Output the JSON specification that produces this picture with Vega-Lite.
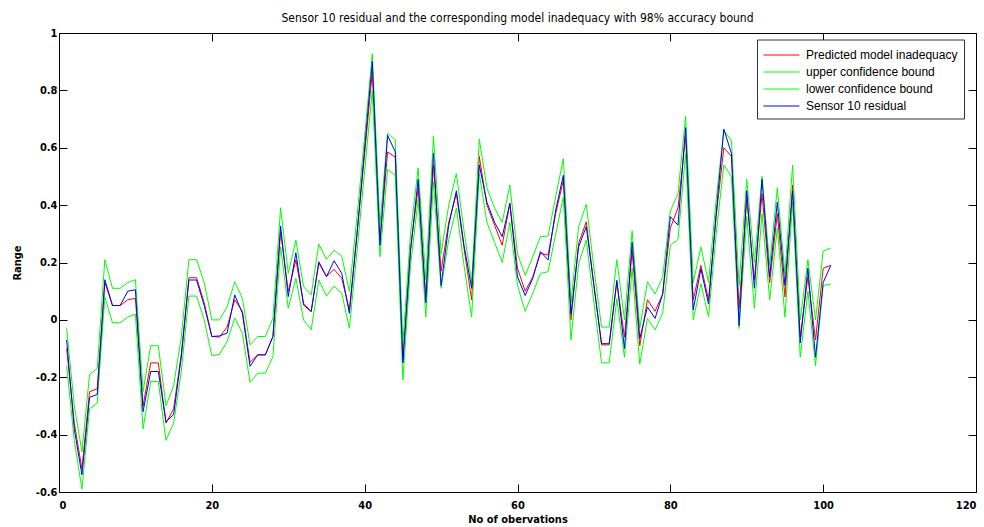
{
  "$schema": "https://vega.github.io/schema/vega-lite/v6.json",
  "width": 917,
  "height": 459,
  "autosize": "none",
  "padding": {"left": 59, "top": 33, "right": 8, "bottom": 35},
  "background": "white",
  "title": {
    "text": "Sensor 10 residual and the corresponding model inadequacy with 98% accuracy bound",
    "font": "'DejaVu Sans Condensed', 'Liberation Sans', sans-serif",
    "fontSize": 12,
    "fontWeight": "normal",
    "color": "black",
    "anchor": "middle",
    "offset": 2
  },
  "config": {
    "view": {"stroke": "black", "strokeWidth": 1},
    "axis": {
      "grid": false,
      "domain": false,
      "tickColor": "black",
      "tickSize": -8,
      "labelFont": "'DejaVu Sans Condensed', 'Liberation Sans', sans-serif",
      "labelFontSize": 11,
      "labelFontWeight": "bold",
      "labelColor": "black",
      "titleFont": "'DejaVu Sans Condensed', 'Liberation Sans', sans-serif",
      "titleFontSize": 11,
      "titleFontWeight": "bold",
      "titleColor": "black"
    }
  },
  "data": {
    "values": [
      {"x": 1, "pred": -0.10, "upper": -0.03, "lower": -0.16, "resid": -0.07},
      {"x": 2, "pred": -0.36, "upper": -0.30, "lower": -0.42, "resid": -0.38},
      {"x": 3, "pred": -0.52, "upper": -0.46, "lower": -0.59, "resid": -0.54},
      {"x": 4, "pred": -0.25, "upper": -0.19, "lower": -0.31, "resid": -0.27},
      {"x": 5, "pred": -0.24, "upper": -0.17, "lower": -0.29, "resid": -0.26},
      {"x": 6, "pred": 0.13, "upper": 0.21, "lower": 0.08, "resid": 0.14},
      {"x": 7, "pred": 0.05, "upper": 0.11, "lower": -0.01, "resid": 0.05},
      {"x": 8, "pred": 0.05, "upper": 0.11, "lower": -0.01, "resid": 0.05},
      {"x": 9, "pred": 0.07, "upper": 0.13, "lower": 0.01, "resid": 0.10},
      {"x": 10, "pred": 0.075, "upper": 0.14, "lower": 0.02, "resid": 0.105},
      {"x": 11, "pred": -0.30, "upper": -0.25, "lower": -0.38, "resid": -0.32},
      {"x": 12, "pred": -0.15, "upper": -0.09, "lower": -0.215, "resid": -0.18},
      {"x": 13, "pred": -0.15, "upper": -0.09, "lower": -0.215, "resid": -0.18},
      {"x": 14, "pred": -0.36, "upper": -0.30, "lower": -0.42, "resid": -0.355},
      {"x": 15, "pred": -0.31, "upper": -0.23, "lower": -0.36, "resid": -0.33},
      {"x": 16, "pred": -0.12, "upper": -0.06, "lower": -0.18, "resid": -0.13},
      {"x": 17, "pred": 0.147, "upper": 0.21, "lower": 0.083, "resid": 0.139},
      {"x": 18, "pred": 0.147, "upper": 0.21, "lower": 0.083, "resid": 0.139},
      {"x": 19, "pred": 0.06, "upper": 0.13, "lower": 0.0, "resid": 0.05},
      {"x": 20, "pred": -0.058, "upper": 0.0, "lower": -0.125, "resid": -0.058},
      {"x": 21, "pred": -0.06, "upper": 0.0, "lower": -0.12, "resid": -0.056},
      {"x": 22, "pred": -0.025, "upper": 0.046, "lower": -0.075, "resid": -0.046},
      {"x": 23, "pred": 0.07, "upper": 0.133, "lower": 0.006, "resid": 0.087},
      {"x": 24, "pred": 0.03, "upper": 0.075, "lower": -0.046, "resid": 0.023},
      {"x": 25, "pred": -0.148, "upper": -0.087, "lower": -0.218, "resid": -0.162},
      {"x": 26, "pred": -0.122, "upper": -0.058, "lower": -0.186, "resid": -0.122},
      {"x": 27, "pred": -0.122, "upper": -0.058, "lower": -0.186, "resid": -0.122},
      {"x": 28, "pred": -0.058, "upper": 0.006, "lower": -0.128, "resid": -0.058},
      {"x": 29, "pred": 0.307, "upper": 0.391, "lower": 0.255, "resid": 0.327},
      {"x": 30, "pred": 0.099, "upper": 0.162, "lower": 0.041, "resid": 0.081},
      {"x": 31, "pred": 0.209, "upper": 0.278, "lower": 0.145, "resid": 0.234},
      {"x": 32, "pred": 0.058, "upper": 0.116, "lower": 0.0, "resid": 0.052},
      {"x": 33, "pred": 0.029, "upper": 0.087, "lower": -0.035, "resid": 0.029},
      {"x": 34, "pred": 0.203, "upper": 0.264, "lower": 0.139, "resid": 0.199},
      {"x": 35, "pred": 0.151, "upper": 0.211, "lower": 0.083, "resid": 0.151},
      {"x": 36, "pred": 0.176, "upper": 0.243, "lower": 0.118, "resid": 0.206},
      {"x": 37, "pred": 0.145, "upper": 0.222, "lower": 0.093, "resid": 0.162},
      {"x": 38, "pred": 0.035, "upper": 0.099, "lower": -0.029, "resid": 0.023},
      {"x": 39, "pred": 0.30, "upper": 0.36, "lower": 0.24, "resid": 0.30},
      {"x": 40, "pred": 0.58, "upper": 0.64, "lower": 0.52, "resid": 0.60},
      {"x": 41, "pred": 0.865, "upper": 0.928, "lower": 0.80, "resid": 0.90},
      {"x": 42, "pred": 0.28, "upper": 0.33, "lower": 0.22, "resid": 0.26},
      {"x": 43, "pred": 0.585, "upper": 0.65, "lower": 0.525, "resid": 0.643},
      {"x": 44, "pred": 0.568, "upper": 0.628, "lower": 0.504, "resid": 0.586},
      {"x": 45, "pred": -0.14, "upper": -0.08, "lower": -0.21, "resid": -0.15},
      {"x": 46, "pred": 0.25, "upper": 0.30, "lower": 0.19, "resid": 0.24},
      {"x": 47, "pred": 0.46, "upper": 0.53, "lower": 0.42, "resid": 0.49},
      {"x": 48, "pred": 0.08, "upper": 0.14, "lower": 0.01, "resid": 0.06},
      {"x": 49, "pred": 0.54, "upper": 0.64, "lower": 0.48, "resid": 0.58},
      {"x": 50, "pred": 0.17, "upper": 0.23, "lower": 0.11, "resid": 0.12},
      {"x": 51, "pred": 0.34, "upper": 0.40, "lower": 0.28, "resid": 0.33},
      {"x": 52, "pred": 0.44, "upper": 0.51, "lower": 0.39, "resid": 0.45},
      {"x": 53, "pred": 0.25, "upper": 0.31, "lower": 0.19, "resid": 0.26},
      {"x": 54, "pred": 0.07, "upper": 0.13, "lower": 0.01, "resid": 0.11},
      {"x": 55, "pred": 0.57, "upper": 0.63, "lower": 0.51, "resid": 0.54},
      {"x": 56, "pred": 0.40, "upper": 0.46, "lower": 0.34, "resid": 0.41},
      {"x": 57, "pred": 0.33, "upper": 0.39, "lower": 0.27, "resid": 0.34},
      {"x": 58, "pred": 0.26, "upper": 0.34, "lower": 0.20, "resid": 0.29},
      {"x": 59, "pred": 0.406, "upper": 0.47, "lower": 0.34, "resid": 0.406},
      {"x": 60, "pred": 0.18, "upper": 0.23, "lower": 0.12, "resid": 0.15},
      {"x": 61, "pred": 0.10, "upper": 0.155, "lower": 0.03, "resid": 0.085},
      {"x": 62, "pred": 0.15, "upper": 0.22, "lower": 0.093, "resid": 0.145},
      {"x": 63, "pred": 0.232, "upper": 0.29, "lower": 0.162, "resid": 0.238},
      {"x": 64, "pred": 0.226, "upper": 0.292, "lower": 0.168, "resid": 0.209},
      {"x": 65, "pred": 0.371, "upper": 0.43, "lower": 0.30, "resid": 0.383},
      {"x": 66, "pred": 0.487, "upper": 0.562, "lower": 0.429, "resid": 0.504},
      {"x": 67, "pred": 0.0, "upper": 0.06, "lower": -0.07, "resid": 0.02},
      {"x": 68, "pred": 0.267, "upper": 0.325, "lower": 0.197, "resid": 0.255},
      {"x": 69, "pred": 0.342, "upper": 0.403, "lower": 0.278, "resid": 0.325},
      {"x": 70, "pred": 0.12, "upper": 0.18, "lower": 0.06, "resid": 0.12},
      {"x": 71, "pred": -0.087, "upper": -0.025, "lower": -0.15, "resid": -0.083},
      {"x": 72, "pred": -0.087, "upper": -0.025, "lower": -0.15, "resid": -0.083},
      {"x": 73, "pred": 0.132, "upper": 0.21, "lower": 0.074, "resid": 0.138},
      {"x": 74, "pred": -0.06, "upper": 0.0, "lower": -0.13, "resid": -0.10},
      {"x": 75, "pred": 0.24, "upper": 0.31, "lower": 0.18, "resid": 0.27},
      {"x": 76, "pred": -0.09, "upper": -0.03, "lower": -0.155, "resid": -0.065},
      {"x": 77, "pred": 0.07, "upper": 0.133, "lower": 0.005, "resid": 0.045},
      {"x": 78, "pred": 0.03, "upper": 0.09, "lower": -0.035, "resid": 0.005},
      {"x": 79, "pred": 0.09, "upper": 0.15, "lower": 0.023, "resid": 0.09},
      {"x": 80, "pred": 0.32, "upper": 0.38, "lower": 0.26, "resid": 0.36},
      {"x": 81, "pred": 0.39, "upper": 0.44, "lower": 0.28, "resid": 0.33},
      {"x": 82, "pred": 0.64, "upper": 0.71, "lower": 0.58, "resid": 0.67},
      {"x": 83, "pred": 0.07, "upper": 0.13, "lower": 0.0, "resid": 0.035},
      {"x": 84, "pred": 0.19, "upper": 0.254, "lower": 0.126, "resid": 0.178},
      {"x": 85, "pred": 0.07, "upper": 0.13, "lower": 0.01, "resid": 0.055},
      {"x": 86, "pred": 0.36, "upper": 0.42, "lower": 0.30, "resid": 0.37},
      {"x": 87, "pred": 0.60, "upper": 0.66, "lower": 0.54, "resid": 0.665},
      {"x": 88, "pred": 0.57, "upper": 0.625, "lower": 0.50, "resid": 0.58},
      {"x": 89, "pred": 0.04, "upper": 0.12, "lower": -0.03, "resid": -0.02},
      {"x": 90, "pred": 0.42, "upper": 0.49, "lower": 0.36, "resid": 0.45},
      {"x": 91, "pred": 0.14, "upper": 0.20, "lower": 0.04, "resid": 0.11},
      {"x": 92, "pred": 0.44, "upper": 0.50, "lower": 0.37, "resid": 0.49},
      {"x": 93, "pred": 0.13, "upper": 0.19, "lower": 0.07, "resid": 0.15},
      {"x": 94, "pred": 0.37, "upper": 0.46, "lower": 0.32, "resid": 0.41},
      {"x": 95, "pred": 0.08, "upper": 0.16, "lower": 0.01, "resid": 0.12},
      {"x": 96, "pred": 0.47, "upper": 0.54, "lower": 0.41, "resid": 0.45},
      {"x": 97, "pred": -0.06, "upper": 0.0, "lower": -0.13, "resid": -0.08},
      {"x": 98, "pred": 0.15, "upper": 0.21, "lower": 0.10, "resid": 0.18},
      {"x": 99, "pred": -0.07, "upper": 0.0, "lower": -0.16, "resid": -0.13},
      {"x": 100, "pred": 0.18, "upper": 0.24, "lower": 0.12, "resid": 0.13},
      {"x": 101, "pred": 0.19, "upper": 0.25, "lower": 0.125, "resid": 0.19}
    ]
  },
  "transform": [{"fold": ["pred", "upper", "lower", "resid"], "as": ["series", "value"]}],
  "layer": [
    {
      "mark": {"type": "line", "strokeWidth": 1, "interpolate": "linear"},
      "encoding": {
        "x": {
          "field": "x", "type": "quantitative",
          "scale": {"domain": [0, 120], "nice": false, "zero": false},
          "axis": {"orient": "bottom", "values": [0, 20, 40, 60, 80, 100, 120], "title": "No of obervations", "labelPadding": 15, "titlePadding": 3}
        },
        "y": {
          "field": "value", "type": "quantitative",
          "scale": {"domain": [-0.6, 1], "nice": false, "zero": false},
          "axis": {"orient": "left", "values": [-0.6, -0.4, -0.2, 0, 0.2, 0.4, 0.6, 0.8, 1], "labelExpr": "toString(datum.value)", "title": "Range", "labelPadding": 10, "titlePadding": 13}
        },
        "color": {
          "field": "series", "type": "nominal",
          "scale": {"domain": ["pred", "upper", "lower", "resid"], "range": ["#ff0000", "#00ff00", "#00ff00", "#0000ff"]},
          "legend": {
            "title": null,
            "orient": "none",
            "legendX": 698,
            "legendY": 6.5,
            "direction": "vertical",
            "labelExpr": "{'pred': 'Predicted model inadequacy', 'upper': 'upper confidence bound', 'lower': 'lower confidence bound', 'resid': 'Sensor 10 residual'}[datum.label]",
            "labelFont": "Liberation Sans",
            "labelFontSize": 12,
            "labelColor": "black",
            "labelOffset": 24,
            "symbolType": "M-1,0H3",
            "symbolSize": 324,
            "symbolStrokeWidth": 1,
            "rowPadding": 1,
            "padding": 6,
            "strokeColor": "#333333",
            "fillColor": "white",
            "labelLimit": 300
          }
        }
      }
    },
    {
      "mark": {"type": "line", "strokeOpacity": 0},
      "encoding": {
        "x": {
          "field": "x", "type": "quantitative",
          "scale": {"domain": [0, 120], "nice": false, "zero": false},
          "axis": {"orient": "top", "values": [0, 20, 40, 60, 80, 100, 120], "labels": false, "title": null}
        },
        "y": {
          "field": "value", "type": "quantitative",
          "scale": {"domain": [-0.6, 1], "nice": false, "zero": false},
          "axis": {"orient": "right", "values": [-0.6, -0.4, -0.2, 0, 0.2, 0.4, 0.6, 0.8, 1], "labels": false, "title": null}
        }
      }
    }
  ],
  "resolve": {"axis": {"x": "independent", "y": "independent"}}
}
